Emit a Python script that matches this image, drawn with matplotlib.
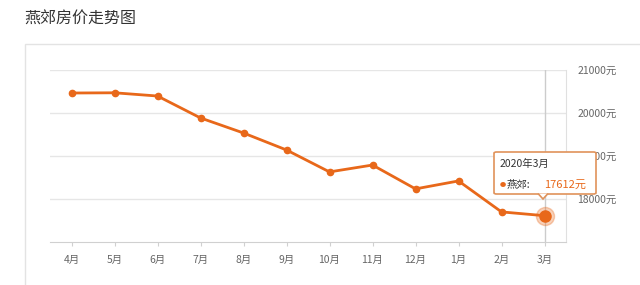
import matplotlib.pyplot as plt
from matplotlib.patches import Rectangle, FancyBboxPatch, Polygon

plt.rcParams['font.family'] = ['Noto Sans CJK SC', 'DejaVu Sans']

# 数据
meses = ['4月', '5月', '6月', '7月', '8月', '9月', '10月', '11月', '12月', '1月', '2月', '3月']
precios = [20465, 20470, 20395, 19885, 19535, 19140, 18630, 18790, 18235, 18420, 17700, 17612]
yticks = [18000, 19000, 20000, 21000]

naranja = '#e8681a'
gris = '#666666'

fig = plt.figure(figsize=(6.4, 2.85), dpi=100)
fig.text(24 / 640, 1 - 19 / 285, '燕郊房价走势图', fontsize=11.5, color='#333333', va='center')

# marco exterior
fig.patches.append(Rectangle((25 / 640, -0.1), 1.0, 1 - 44 / 285 + 0.1, transform=fig.transFigure,
                             fill=False, edgecolor='#e3e3e3', lw=1))

ax = fig.add_axes([50 / 640, 1 - 242 / 285, 516 / 640, 172 / 285])
x = list(range(len(meses)))
ax.set_xlim(-0.5, len(meses) - 0.5)
ax.set_ylim(17000, 21000)

for v in yticks:
    ax.axhline(v, color='#e6e6e6', lw=1, zorder=0)
ax.axvline(x[-1], color='#cccccc', lw=1, zorder=1)

ax.plot(x, precios, color=naranja, lw=2, marker='o', ms=4.5, zorder=3)
ax.plot(x[-1], precios[-1], 'o', color=naranja, ms=8, zorder=4)
ax.plot(x[-1], precios[-1], 'o', color=naranja, ms=13, alpha=0.3, zorder=3)

for s in ['top', 'left']:
    ax.spines[s].set_visible(False)
ax.spines['bottom'].set_color('#d0d0d0')
ax.spines['right'].set_color('#e0e0e0')

ax.set_xticks(x)
ax.set_xticklabels(meses, fontsize=7.5, color=gris)
ax.tick_params(axis='x', length=3, color='#d0d0d0', pad=6)
ax.yaxis.tick_right()
ax.set_yticks(yticks)
ax.set_yticklabels([f'{v}元' for v in yticks], fontsize=7.5, color=gris)
ax.tick_params(axis='y', length=0, pad=8)

# tooltip
tx0, ty0, tw, th = 494 / 640, 1 - 194 / 285, 102 / 640, 42 / 285
ec = '#e0925a'
fig.patches.append(FancyBboxPatch((tx0, ty0), tw, th, boxstyle='round,pad=0,rounding_size=0.004',
                                  transform=fig.transFigure, facecolor='white',
                                  edgecolor=ec, lw=1.2, zorder=5))
cx = 543 / 640
fig.patches.append(Polygon([(cx - 5 / 640, ty0 + 0.5 / 285), (cx, ty0 - 5 / 285), (cx + 5 / 640, ty0 + 0.5 / 285)],
                           closed=False, transform=fig.transFigure, facecolor='white',
                           edgecolor=ec, lw=1.2, zorder=6))
fig.text(tx0 + 6 / 640, 1 - 164 / 285, '2020年3月', fontsize=7.5, color='#333333', va='center', zorder=7)
fig.text(tx0 + 6 / 640, 1 - 185 / 285, '●', fontsize=4.5, color=naranja, va='center', zorder=7)
fig.text(tx0 + 13 / 640, 1 - 185 / 285, '燕郊:', fontsize=7.5, color='#333333', va='center', zorder=7)
fig.text(tx0 + 50 / 640, 1 - 185 / 285, f'{precios[-1]}元', fontsize=8, color=naranja, va='center', zorder=7)

fig.savefig('out.png', dpi=100)
